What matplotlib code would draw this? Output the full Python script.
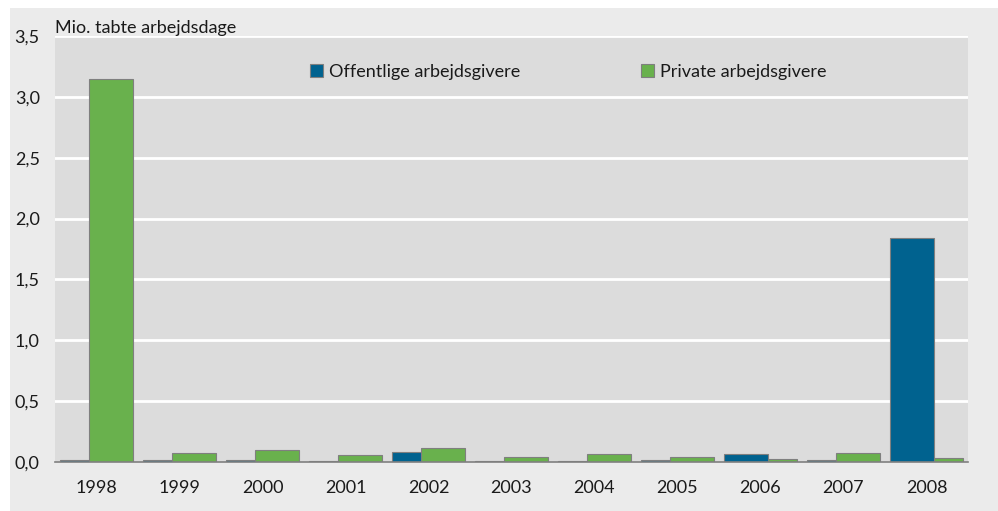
import matplotlib
matplotlib.use("Agg")
import matplotlib.pyplot as plt
from matplotlib.patches import Rectangle, Patch
import numpy as np

years = ["1998", "1999", "2000", "2001", "2002", "2003", "2004", "2005", "2006", "2007", "2008"]
offentlige = [0.02, 0.02, 0.02, 0.008, 0.08, 0.01, 0.005, 0.014, 0.063, 0.02, 1.84]
private = [3.15, 0.074, 0.099, 0.055, 0.113, 0.041, 0.068, 0.039, 0.022, 0.074, 0.03]
yticks = [0.0, 0.5, 1.0, 1.5, 2.0, 2.5, 3.0, 3.5]
ytick_labels = ["0,0", "0,5", "1,0", "1,5", "2,0", "2,5", "3,0", "3,5"]

plt.rcParams['font.family'] = ['Lato', 'DejaVu Sans']

blue = "#00628f"
green = "#69b14d"
edge = "#7f7f7f"
fs = 13

fig = plt.figure(figsize=(9.98, 5.11), dpi=100)
fig.patch.set_facecolor("white")
bg = Rectangle((10/998, 0), 1 - 10/998, 1 - 8/511, transform=fig.transFigure,
               facecolor="#ebebeb", edgecolor="none", zorder=-10)
fig.patches.append(bg)

ax = fig.add_axes([55/998, 1 - 462/511, (968-55)/998, (462-36)/511])
ax.set_zorder(1)
ax.set_facecolor("#dcdcdc")

x = np.arange(len(years))
w = 0.54
off = 0.175
for i in range(len(years)):
    zb = 3 if offentlige[i] >= private[i] else 2
    zg = 5 - zb
    ax.bar(x[i] - off, offentlige[i], w, color=blue, edgecolor=edge, linewidth=0.8, zorder=zb)
    ax.bar(x[i] + off, private[i], w, color=green, edgecolor=edge, linewidth=0.8, zorder=zg)

ax.set_xlim(-0.5, len(years) - 0.5)
ax.set_ylim(0, 3.5)
ax.set_yticks(yticks)
ax.set_yticklabels(ytick_labels, fontsize=fs)
ax.set_xticks(x)
ax.set_xticklabels(years, fontsize=fs)
ax.tick_params(axis='both', length=0, colors="#1a1a1a")
ax.tick_params(axis='y', pad=11)
ax.tick_params(axis='x', pad=13)
for yv in yticks[1:]:
    ax.axhline(yv, color="white", linewidth=2, zorder=1)
for s in ["top", "right", "left"]:
    ax.spines[s].set_visible(False)
ax.spines["bottom"].set_color("#808080")
ax.spines["bottom"].set_linewidth(1.2)
ax.spines["bottom"].set_zorder(6)

fig.text(55/998, 1 - 28/511, "Mio. tabte arbejdsdage", fontsize=fs, va="center", ha="left", color="#1a1a1a")

handles = [Patch(facecolor=blue, edgecolor=edge, linewidth=0.8),
           Patch(facecolor=green, edgecolor=edge, linewidth=0.8)]
leg = ax.legend(handles, ["Offentlige arbejdsgivere", "Private arbejdsgivere"], ncol=2,
                frameon=False, fontsize=fs, loc="center left",
                bbox_to_anchor=((310-55)/913, (462-72)/426),
                handlelength=0.7, handleheight=0.7, handletextpad=0.35, columnspacing=6.7,
                borderaxespad=0, borderpad=0)
for t in leg.get_texts():
    t.set_color("#1a1a1a")

fig.savefig("out.png", dpi=100)
